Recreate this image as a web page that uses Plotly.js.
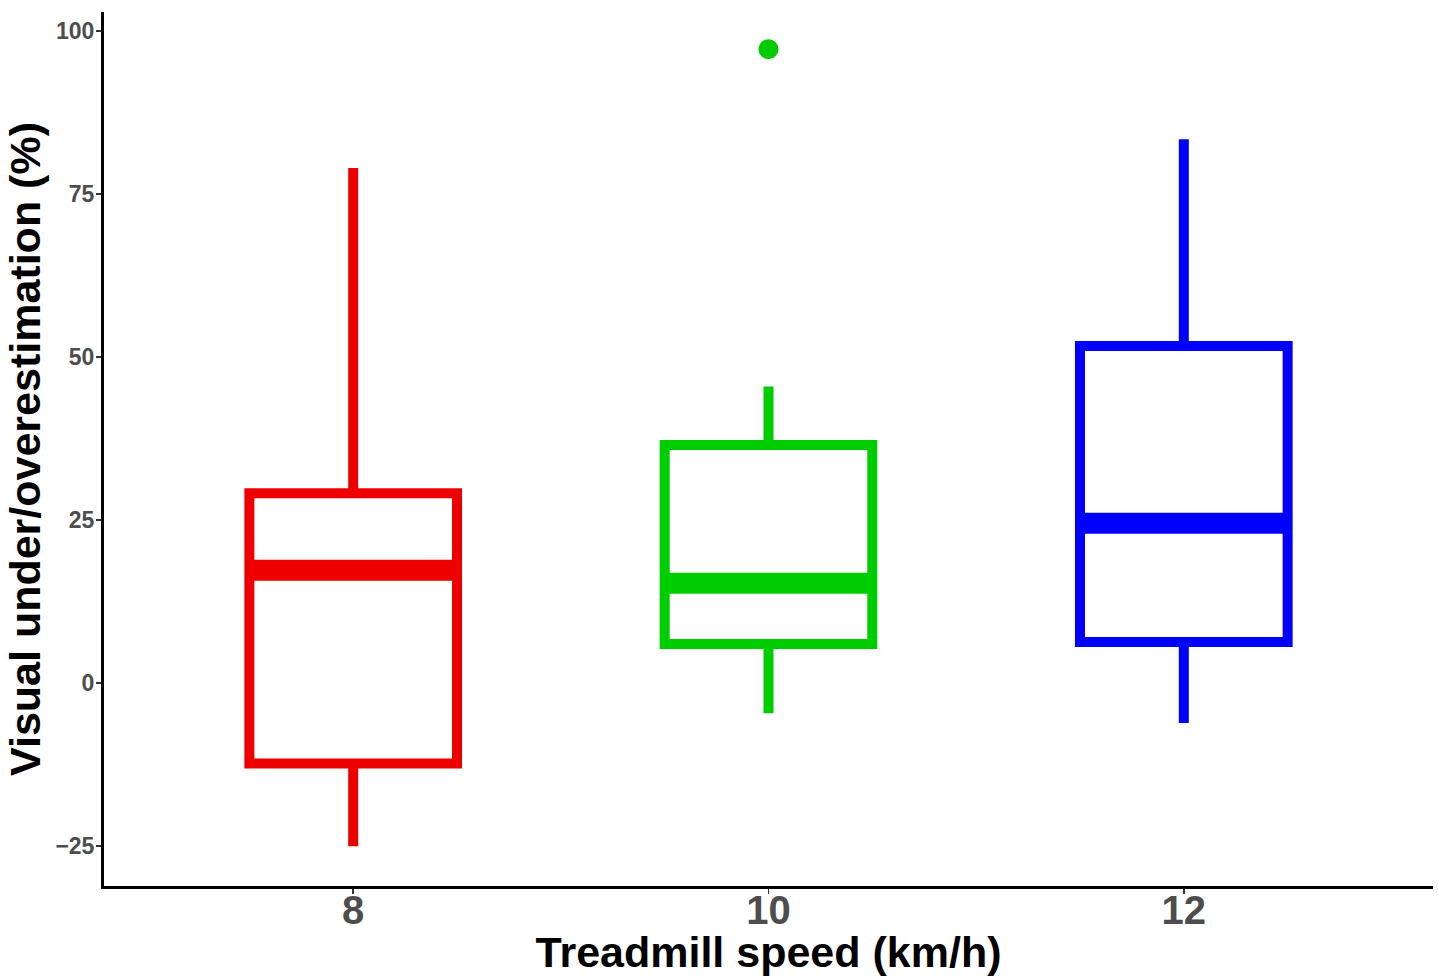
<!DOCTYPE html>
<html>
<head>
<meta charset="utf-8">
<script src="https://cdn.plot.ly/plotly-3.0.1.min.js"></script>
<style>html,body{margin:0;padding:0;background:#fff;}#chart{width:1438px;height:976px;}</style>
</head>
<body>
<div id="chart"></div>
<script>
// Data
const speeds = [8, 10, 12];
const tickLabels = ['8', '10', '12'];
const lowerWhisker = [-25.0, -4.6, -6.1];
const q1 = [-12.3, 6.0, 6.3];
const median = [17.3, 15.3, 24.5];
const q3 = [29.1, 36.5, 51.7];
const upperWhisker = [79.0, 45.5, 83.4];
const outlierX = [10];
const outlierY = [97.2];
const colors = ['#EE0000', '#00CD00', '#0000FF'];
const outlierColor = '#00CD00';
const boxWidth = 1;

const traces = [];
speeds.forEach((s, i) => {
  traces.push({
    type: 'box',
    x: [s],
    q1: [q1[i]],
    median: [median[i]],
    q3: [q3[i]],
    lowerfence: [lowerWhisker[i]],
    upperfence: [upperWhisker[i]],
    width: boxWidth,
    whiskerwidth: 0,
    boxpoints: false,
    fillcolor: 'rgba(255,255,255,0)',
    line: {color: colors[i], width: 10},
    hoverinfo: 'skip',
    showlegend: false
  });
  // thicker median bar (ggplot-style fatten)
  traces.push({
    type: 'scatter',
    mode: 'lines',
    x: [s - boxWidth / 2, s + boxWidth / 2],
    y: [median[i], median[i]],
    line: {color: colors[i], width: 21},
    hoverinfo: 'skip',
    showlegend: false
  });
});
traces.push({
  type: 'scatter',
  mode: 'markers',
  x: outlierX,
  y: outlierY,
  marker: {color: outlierColor, size: 20},
  hoverinfo: 'skip',
  showlegend: false
});

const layout = {
  width: 1438,
  height: 976,
  paper_bgcolor: '#fff',
  plot_bgcolor: '#fff',
  margin: {l: 104, r: 5, t: 12, b: 90},
  showlegend: false,
  font: {family: '"Liberation Sans", Arial, sans-serif'},
  xaxis: {
    range: [6.8, 13.2],
    tickvals: speeds,
    ticktext: tickLabels,
    showgrid: false,
    zeroline: false,
    showline: true,
    linecolor: '#000',
    linewidth: 3,
    ticks: 'outside',
    ticklen: 5,
    tickwidth: 1.5,
    tickcolor: '#333',
    ticklabelstandoff: -18,
    tickfont: {size: 40, color: '#4d4d4d', family: '"Liberation Sans", Arial, sans-serif', weight: 'bold'},
    title: {text: 'Treadmill speed (km/h)', font: {size: 43, color: '#000', weight: 'bold'}, standoff: 6}
  },
  yaxis: {
    range: [-31.1, 102.9],
    tickvals: [-25, 0, 25, 50, 75, 100],
    ticktext: ['\u221225', '0', '25', '50', '75', '100'],
    showgrid: false,
    zeroline: false,
    showline: true,
    linecolor: '#000',
    linewidth: 3,
    ticks: 'outside',
    ticklen: 5,
    tickwidth: 1.5,
    tickcolor: '#333',
    ticklabelstandoff: -3,
    tickfont: {size: 23, color: '#4d4d4d', family: '"Liberation Sans", Arial, sans-serif', weight: 'bold'},
    title: {text: 'Visual under/overestimation (%)', font: {size: 43, color: '#000', weight: 'bold'}, standoff: 2}
  }
};

Plotly.newPlot('chart', traces, layout, {displayModeBar: false, staticPlot: true});
</script>
</body>
</html>
